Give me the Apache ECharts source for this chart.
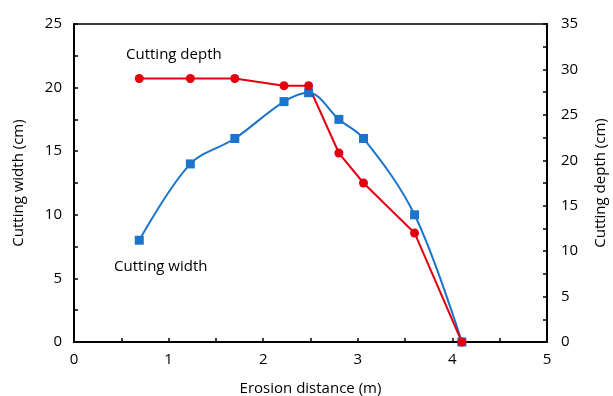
<!DOCTYPE html>
<html>
<head>
<meta charset="utf-8">
<script src="https://cdn.jsdelivr.net/npm/echarts@6/dist/echarts.min.js"></script>
<style>
  html, body { margin: 0; padding: 0; background: #fff; }
  #chart { width: 613px; height: 396px; }
</style>
</head>
<body>
<div id="chart"></div>
<script>
// values
const distance = [0.69, 1.23, 1.7, 2.22, 2.48, 2.8, 3.06, 3.6, 4.1]
const cuttingWidth = [8, 14, 16, 18.9, 19.6, 17.5, 16, 10, 0]
const cuttingDepth = [29, 29, 29, 28.2, 28.2, 20.8, 17.5, 12, 0]

const font = 'Open Sans'
const blue = '#1b75cc'
const red = '#e3000f'

const pairs = (ys) => distance.map((x, i) => [x, ys[i]])

const myChart = echarts.init(document.getElementById('chart'))

const axisCommon = {
  axisLine: { show: true, lineStyle: { color: '#000', width: 2 } },
  axisTick: { show: true, inside: true, length: 4, lineStyle: { color: '#000', width: 1.5 } },
  splitLine: { show: false },
  nameTextStyle: { color: '#000', fontFamily: font, fontSize: 15 },
}

const options = {
  animation: false,
  grid: {
    left: 74, right: 66, top: 24, bottom: 54,
    outerBoundsMode: 'none',
    show: true, borderColor: '#000', borderWidth: 1.3,
  },
  xAxis: {
    ...axisCommon,
    type: 'value',
    min: 0,
    max: 5,
    interval: 0.5,
    name: 'Erosion distance (m)',
    nameLocation: 'middle',
    nameGap: 39,
    axisLabel: {
      color: '#000', fontFamily: font, fontSize: 15, margin: 10,
      formatter: (v) => (v % 1 === 0 ? String(v) : ''),
    },
  },
  yAxis: [
    {
      ...axisCommon,
      type: 'value',
      min: 0,
      max: 25,
      interval: 2.5,
      name: 'Cutting width (cm)',
      nameLocation: 'middle',
      nameGap: 48,
      axisLabel: {
        color: '#000', fontFamily: font, fontSize: 15, margin: 12,
        formatter: (v) => (v % 5 === 0 ? String(v) : ''),
      },
    },
    {
      ...axisCommon,
      type: 'value',
      position: 'right',
      min: 0,
      max: 35,
      interval: 2.5,
      name: 'Cutting depth (cm)',
      nameLocation: 'middle',
      nameGap: 46,
      axisLabel: {
        color: '#000', fontFamily: font, fontSize: 15, margin: 14,
        formatter: (v) => (v % 5 === 0 ? String(v) : ''),
      },
    },
  ],
  series: [
    {
      name: 'Cutting width',
      type: 'line',
      yAxisIndex: 0,
      data: pairs(cuttingWidth),
      smooth: 0.35,
      symbol: 'rect',
      symbolSize: 9,
      lineStyle: { color: blue, width: 2 },
      itemStyle: { color: blue },
    },
    {
      name: 'Cutting depth',
      type: 'line',
      yAxisIndex: 1,
      data: pairs(cuttingDepth),
      symbol: 'circle',
      symbolSize: 9,
      lineStyle: { color: red, width: 2 },
      itemStyle: { color: red },
    },
  ],
  graphic: [
    { type: 'text', left: 126, top: 47, style: { text: 'Cutting depth', fill: '#000', font: '15px "Open Sans"' } },
    { type: 'text', left: 114, top: 259, style: { text: 'Cutting width', fill: '#000', font: '15px "Open Sans"' } },
  ],
}
myChart.setOption(options)
</script>
</body>
</html>
